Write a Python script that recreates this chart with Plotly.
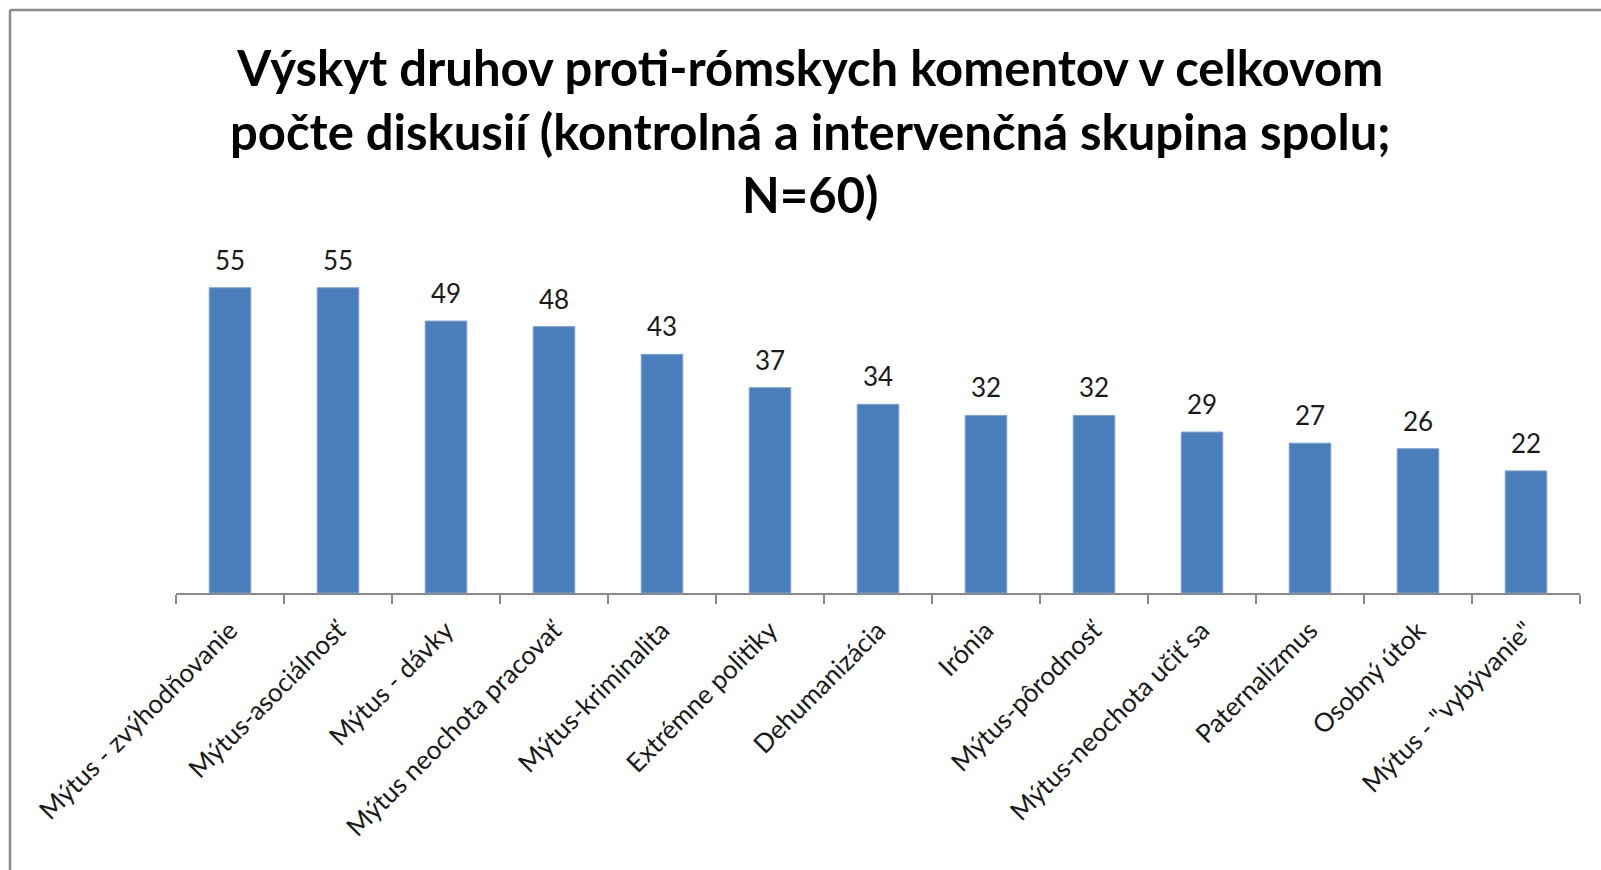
import plotly.graph_objects as go

categories = ["Mýtus - zvýhodňovanie", "Mýtus-asociálnosť", "Mýtus - dávky",
              "Mýtus neochota pracovať", "Mýtus-kriminalita", "Extrémne politiky",
              "Dehumanizácia", "Irónia", "Mýtus-pôrodnosť", "Mýtus-neochota učiť sa",
              "Paternalizmus", "Osobný útok", "Mýtus - \"vybývanie\""]
values = [55, 55, 49, 48, 43, 37, 34, 32, 32, 29, 27, 26, 22]
title_text = ("Výskyt druhov proti-rómskych komentov v celkovom<br>"
              "počte diskusií (kontrolná a intervenčná skupina spolu;<br>N=60)")

W, H = 1601, 870
L, R, T, B = 176, 21, 260, 277
pw, ph = W - L - R, H - T - B

fig = go.Figure(go.Bar(
    x=categories, y=values,
    marker=dict(color="#4A7EBB", line=dict(color="#7FA3D1", width=1)),
    width=0.385,
))

def px_x(x):
    return (x - L) / pw

def px_y(y):
    return 1 + (T - y) / ph

annotations = [dict(
    x=c, y=v, xref="x", yref="y", text=str(v), showarrow=False,
    yanchor="middle", yshift=28,
    font=dict(family="Lato", size=26, color="#1a1a1a"),
) for c, v in zip(categories, values)]

annotations.append(dict(
    text="<b>" + title_text + "</b>", xref="paper", yref="paper",
    x=px_x(810), y=px_y(130), xanchor="center", yanchor="middle",
    showarrow=False, font=dict(family="Lato", size=49, color="#000000"),
))

fig.update_layout(
    width=W, height=H,
    margin=dict(l=L, r=R, t=T, b=B),
    paper_bgcolor="white", plot_bgcolor="white",
    showlegend=False,
    font=dict(family="Lato", color="#1a1a1a"),
    xaxis=dict(
        showline=True, linecolor="#8a8a8a", linewidth=2,
        ticks="outside", tickson="boundaries", ticklen=9, tickcolor="#8a8a8a", tickwidth=2,
        tickangle=-45, tickfont=dict(family="Lato", size=26, color="#1a1a1a"),
        ticklabelstandoff=10,
        showgrid=False,
    ),
    yaxis=dict(range=[0, 60], visible=False, showgrid=False),
    annotations=annotations,
    shapes=[
        dict(type="line", xref="paper", yref="paper", x0=px_x(10), x1=px_x(1700),
             y0=px_y(10), y1=px_y(10), line=dict(color="#8c8c8c", width=2.5)),
        dict(type="line", xref="paper", yref="paper", x0=px_x(10), x1=px_x(10),
             y0=px_y(10), y1=px_y(1000), line=dict(color="#8c8c8c", width=2.5)),
    ],
)

fig.write_html("out.html")
